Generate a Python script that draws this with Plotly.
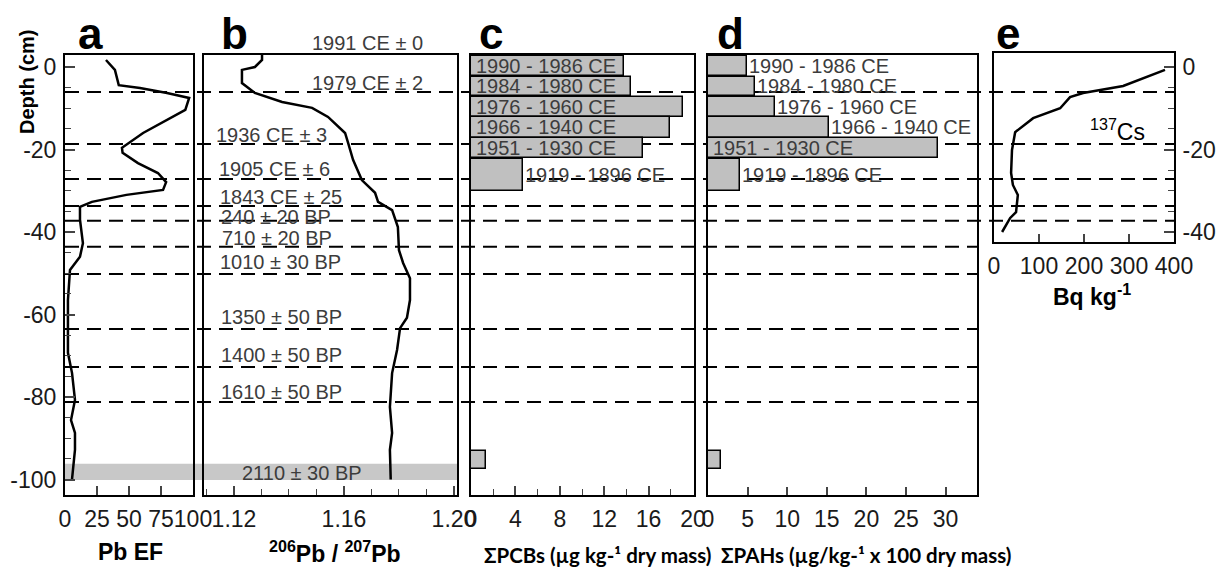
import plotly.graph_objects as go

W, H = 1222, 569

# ---- data (depth in cm, negative downwards) ----
pb_ef_depth = [1.7, -0.7, -4.4, -5.1, -6.3, -7.5, -10.4, -12.8, -16.0, -19.6, -20.8, -23.3,
               -25.7, -27.9, -29.8, -31.0, -32.2, -32.7, -33.9, -37.0, -42.7, -46.0, -49.2,
               -56.5, -64.5, -69.3, -74.2, -80.7, -85.6, -88.7, -92.8, -99.9]
pb_ef = [32, 39, 42, 58.6, 79.7, 97, 94, 80, 61, 44.5, 45, 57,
         72.6, 79, 76.6, 48, 27, 21, 11.7, 11.7, 14, 11.7, 3.9,
         2.3, 2.3, 2.3, 5.5, 7.8, 4.7, 7.8, 7.8, 5.5]

ratio_depth = [3.0, 1.7, 0.0, -0.7, -3.9, -6.3, -8.5, -9.9, -12.1, -16.0, -18.4, -22.5, -27.4,
               -30.5, -32.7, -34.7, -38.8, -44.4, -47.5, -51.2, -56.5, -60.8, -63.3, -68.6,
               -74.2, -82.4, -88.7, -92.8, -100.0]
pb_ratio = [1.1302, 1.1302, 1.1276, 1.1229, 1.1229, 1.1276, 1.1375, 1.1484, 1.1542, 1.1604,
            1.1615, 1.1633, 1.1665, 1.1713, 1.1724, 1.1775, 1.1796, 1.1800, 1.1815, 1.1840,
            1.1840, 1.1829, 1.1804, 1.1793, 1.1775, 1.1767, 1.1775, 1.1767, 1.1770]

cs_depth = [-0.7, -4.6, -6.3, -7.3, -10.0, -12.4, -15.8, -20.1, -25.7, -28.6, -31.0, -35.2, -36.6, -40.0]
cs = [380, 287, 198, 169, 147, 87, 47, 40, 38, 42, 53, 49, 36, 18]

bar_top = [2.67, -2.42, -7.27, -12.12, -17.2, -22.3, -93.1]
bar_bot = [-2.18, -7.03, -12.12, -17.2, -22.06, -30.06, -97.45]
periods = ["1990 - 1986 CE", "1984 - 1980 CE", "1976 - 1960 CE", "1966 - 1940 CE",
           "1951 - 1930 CE", "1919 - 1896 CE", ""]
pcbs = [13.8, 14.4, 19.1, 17.9, 15.5, 4.7, 1.35]
pahs = [4.9, 5.9, 8.5, 15.3, 29.0, 4.1, 1.6]

date_labels = ["1991 CE ± 0", "1979 CE ± 2", "1936 CE ± 3", "1905 CE ± 6", "1843 CE ± 25",
               "240 ± 20 BP", "710 ± 20 BP", "1010 ± 30 BP", "1350 ± 50 BP", "1400 ± 50 BP",
               "1610 ± 50 BP", "2110 ± 30 BP"]
date_label_depth = [5.8, -3.9, -16.5, -24.7, -31.5, -36.4, -41.5, -47.3, -60.6, -69.8, -78.8, -98.4]
date_label_x = [1.1476, 1.1476, 1.1127, 1.1138, 1.1142, 1.1145, 1.1149, 1.1142, 1.1145, 1.1145,
                1.1145, 1.1222]

horizon_depth = [-6.06, -18.67, -27.15, -33.7, -37.3, -43.6, -50.2, -63.5, -72.7, -81.2]
band_depth = (-96.2, -100.1)

depth_ticks = [0, -20, -40, -60, -80, -100]

# ---- layout helpers (pixels -> paper) ----
def xd(p0, p1):
    return [p0 / W, p1 / W]

def yd(top, bot):
    return [1 - bot / H, 1 - top / H]

def depth_range(top, bot):
    return [(67 - bot) / 4.125, (67 - top) / 4.125]

FONT = "Liberation Sans, Arial, sans-serif"
tickfont = dict(family=FONT, size=23, color="#1a1a1a")
frame = dict(showline=True, linecolor="black", linewidth=2, mirror=True,
             showgrid=False, zeroline=False, automargin=False, tickangle=0)

fig = go.Figure()
line = dict(color="black", width=2.5)
fig.add_trace(go.Scatter(x=pb_ef, y=pb_ef_depth, mode="lines", line=line, xaxis="x", yaxis="y"))
fig.add_trace(go.Scatter(x=pb_ratio, y=ratio_depth, mode="lines", line=line, xaxis="x2", yaxis="y2"))

mids = [(t + b) / 2 for t, b in zip(bar_top, bar_bot)]
widths = [t - b for t, b in zip(bar_top, bar_bot)]
bar_style = dict(color="#c0c0c0", line=dict(color="black", width=1.5))
fig.add_trace(go.Bar(x=pcbs, y=mids, width=widths, base=0, orientation="h",
                     marker=bar_style, xaxis="x3", yaxis="y3"))
fig.add_trace(go.Bar(x=pahs, y=mids, width=widths, base=0, orientation="h",
                     marker=bar_style, xaxis="x4", yaxis="y4"))
fig.add_trace(go.Scatter(x=cs, y=cs_depth, mode="lines", line=line, xaxis="x5", yaxis="y5"))

rng = depth_range(55, 495)
fig.update_layout(
    width=W, height=H, margin=dict(l=0, r=0, t=0, b=0, autoexpand=False),
    paper_bgcolor="white", plot_bgcolor="rgba(0,0,0,0)", showlegend=False,
    bargap=0,
    xaxis=dict(frame, domain=xd(65, 193), range=[0, 100], tickvals=[0, 25, 50, 75, 100],
               ticks="inside", ticklen=9, tickwidth=1.5, tickfont=tickfont, ticklabelstandoff=2),
    yaxis=dict(frame, domain=yd(55, 495), range=rng, tickvals=depth_ticks,
               ticktext=[str(v) for v in depth_ticks],
               ticks="inside", ticklen=10, tickwidth=1.5, tickfont=tickfont, ticklabelstandoff=2,
               minor=dict(ticks="inside", ticklen=6, dtick=5, tick0=0, tickwidth=1.2)),
    xaxis2=dict(frame, domain=xd(204, 457), range=[1.1091, 1.2011],
                tickvals=[1.12, 1.16, 1.20], ticktext=["1.12", "1.16", "1.20"],
                ticks="inside", ticklen=9, tickwidth=1.5, tickfont=tickfont, ticklabelstandoff=2,
                minor=dict(ticks="inside", ticklen=6, dtick=0.01, tick0=1.12, tickwidth=1.2)),
    yaxis2=dict(frame, domain=yd(55, 495), range=rng, showticklabels=False, ticks=""),
    xaxis3=dict(frame, domain=xd(471, 694), range=[0, 20.09], tickvals=[0, 4, 8, 12, 16, 20],
                ticks="inside", ticklen=9, tickwidth=1.5, tickfont=tickfont, ticklabelstandoff=2,
                minor=dict(ticks="inside", ticklen=6, dtick=2, tick0=0, tickwidth=1.2)),
    yaxis3=dict(frame, domain=yd(55, 495), range=rng, showticklabels=False, ticks=""),
    xaxis4=dict(frame, domain=xd(708, 977), range=[0, 33.96], tickvals=[0, 5, 10, 15, 20, 25, 30],
                ticks="inside", ticklen=8, tickwidth=1.5, tickfont=tickfont, ticklabelstandoff=2),
    yaxis4=dict(frame, domain=yd(55, 495), range=rng, showticklabels=False, ticks=""),
    xaxis5=dict(frame, domain=xd(994, 1174), range=[0, 400], tickvals=[0, 100, 200, 300, 400],
                ticks="inside", ticklen=8, tickwidth=1.5, tickfont=tickfont, ticklabelstandoff=2),
    yaxis5=dict(frame, domain=yd(53, 242), range=depth_range(53, 242), side="right",
                tickvals=[0, -20, -40], ticktext=["0", "-20", "-40"],
                ticks="inside", ticklen=10, tickwidth=1.5,
                tickfont=tickfont, ticklabelstandoff=2,
                minor=dict(ticks="inside", ticklen=6, dtick=5, tick0=0, tickwidth=1.2)),
)
for i in range(2, 6):
    fig.layout[f"xaxis{i}"].anchor = f"y{i}"
    fig.layout[f"yaxis{i}"].anchor = f"x{i}"

# dated horizons
shapes = []
for i, d in enumerate(horizon_depth):
    x1 = 1175 if i < 5 else 977
    shapes.append(dict(type="line", xref="paper", yref="y", x0=65 / W, x1=x1 / W, y0=d, y1=d,
                       line=dict(color="black", width=2, dash="14px,8px"), layer="below"))
shapes.append(dict(type="rect", xref="paper", yref="y", x0=65 / W, x1=457 / W,
                   y0=band_depth[0], y1=band_depth[1], fillcolor="#c8c8c8",
                   line=dict(width=0), layer="below"))
fig.update_layout(shapes=shapes)

ann = []
grey = "#3c3c3c"
for txt, x, d in zip(date_labels, date_label_x, date_label_depth):
    # labels above the frame are out of the axis range, so pin those to paper height
    above = d > rng[1]
    ann.append(dict(text=txt, x=x, y=(1 - 43 / H) if above else d, xref="x2",
                    yref="paper" if above else "y2", xanchor="left", yanchor="middle",
                    showarrow=False, font=dict(family=FONT, size=20, color=grey)))

inside_c = {0, 1, 2, 3, 4}
inside_d = {4}
for i, p in enumerate(periods):
    if not p:
        continue
    for vals, ax, inside in ((pcbs, "3", inside_c), (pahs, "4", inside_d)):
        ann.append(dict(text=p, x=0 if i in inside else vals[i], y=mids[i],
                        xref="x" + ax, yref="y" + ax, xanchor="left", yanchor="middle",
                        xshift=3 if i in inside else 0, showarrow=False,
                        font=dict(family=FONT, size=20, color=grey)))

for letter, cx in zip("abcde", [90, 234, 491, 730, 1008]):
    ann.append(dict(text=f"<b>{letter}</b>", x=cx / W, y=1 - 33 / H, xref="paper", yref="paper",
                    xanchor="center", yanchor="middle", showarrow=False,
                    font=dict(family=FONT, size=44, color="black")))

bold = dict(family=FONT, size=23, color="black")
calib = dict(family="Lato, Open Sans, sans-serif", size=20.5, color="black")
titles = [
    ("<b>Pb EF</b>", 130, 552, bold),
    ("<b><sup>206</sup>Pb / <sup>207</sup>Pb</b>", 335, 552, bold),
    ("<b>ΣPCBs (µg kg-¹ dry mass)</b>", 597, 555, calib),
    ("<b>ΣPAHs (µg/kg-¹ x 100 dry mass)</b>", 866, 555, calib),
    ("<b>Bq kg<sup>-1</sup></b>", 1092, 295, bold),
]
for txt, cx, cy, f in titles:
    ann.append(dict(text=txt, x=cx / W, y=1 - cy / H, xref="paper", yref="paper",
                    xanchor="center", yanchor="middle", showarrow=False, font=f))

ann.append(dict(text="<b>Depth (cm)</b>", x=27 / W, y=1 - 82 / H, xref="paper", yref="paper",
                textangle=-90, xanchor="center", yanchor="middle", showarrow=False,
                font=dict(family=FONT, size=20, color="black")))
ann.append(dict(text="<sup>137</sup>Cs", x=1117 / W, y=1 - 130 / H, xref="paper", yref="paper",
                xanchor="center", yanchor="middle", showarrow=False,
                font=dict(family=FONT, size=23, color="black")))
fig.update_layout(annotations=ann)

# the page body has a default 8px margin; drop it so the figure sits at the window corner
fig.write_html("out.html", config={"displayModeBar": False},
               post_script="document.body.style.margin='0';")
